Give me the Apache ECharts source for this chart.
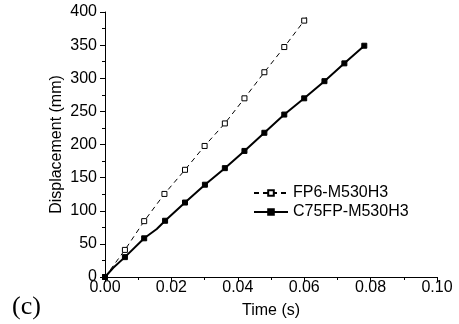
<!DOCTYPE html>
<html>
<head>
<meta charset="utf-8">
<script src="https://cdn.jsdelivr.net/npm/echarts@6/dist/echarts.min.js"></script>
<style>
html,body{margin:0;padding:0;background:#fff;}
#c{width:459px;height:324px;}
</style>
</head>
<body>
<div id="c"></div>
<script>
// Data
const seriesNames = ['FP6-M530H3', 'C75FP-M530H3'];
const fp6Time = [0, 0.0060, 0.0118, 0.0179, 0.0241, 0.0300, 0.0361, 0.0420, 0.0480, 0.0540, 0.0600, 0.0611];
const fp6Disp = [0, 40.9, 84.3, 125.4, 161.8, 197.8, 231.8, 269.7, 309.1, 347.1, 387.0, 395.5];
const fp6Marked = [true, true, true, true, true, true, true, true, true, true, true, false];
const c75Time = [0, 0.0025, 0.0060, 0.0118, 0.0156, 0.0181, 0.0241, 0.0301, 0.0361, 0.0420, 0.0480, 0.0540, 0.0600, 0.0661, 0.0721, 0.0781];
const c75Disp = [0, 14.0, 30.0, 58.4, 72.4, 84.9, 112.4, 139.3, 164.3, 190.3, 217.7, 245.2, 269.7, 295.6, 322.5, 349.1];
const c75Marked = [true, false, true, true, false, true, true, true, true, true, true, true, true, true, true, true];
const xTicks = [0, 0.02, 0.04, 0.06, 0.08, 0.10];
const yTicks = [0, 50, 100, 150, 200, 250, 300, 350, 400];

function build(t, d, m) {
  return t.map((x, i) => m[i] ? [x, d[i]] : { value: [x, d[i]], symbol: 'none' });
}

const chart = echarts.init(document.getElementById('c'), null, { renderer: 'canvas' });
const font = '"Liberation Sans", Arial, sans-serif';
chart.setOption({
  animation: false,
  backgroundColor: '#fff',
  grid: { left: 105, right: 22, top: 12, bottom: 45, containLabel: false },
  legend: {
    orient: 'vertical',
    left: 248,
    top: 180,
    itemWidth: 34,
    itemHeight: 7,
    itemGap: 3,
    textStyle: { color: '#000', fontFamily: font, fontSize: 16 },
    data: seriesNames
  },
  xAxis: {
    type: 'value',
    min: xTicks[0], max: xTicks[xTicks.length - 1], interval: 0.02,
    name: 'Time (s)', nameLocation: 'middle', nameGap: 26, nameMoveOverlap: false,
    nameTextStyle: { color: '#000', fontFamily: font, fontSize: 16 },
    axisLine: { show: true, lineStyle: { color: '#000', width: 1 } },
    axisTick: { show: true, inside: false, length: 5, lineStyle: { color: '#000' } },
    minorTick: { show: true, splitNumber: 2, length: 3, lineStyle: { color: '#000' } },
    splitLine: { show: false },
    axisLabel: { color: '#000', fontFamily: font, fontSize: 16, margin: 3, formatter: v => v.toFixed(2) }
  },
  yAxis: {
    type: 'value',
    min: yTicks[0], max: yTicks[yTicks.length - 1], interval: 50,
    name: 'Displacement (mm)', nameLocation: 'middle', nameGap: 40, nameRotate: 90, nameMoveOverlap: false,
    nameTextStyle: { color: '#000', fontFamily: font, fontSize: 16 },
    axisLine: { show: true, lineStyle: { color: '#000', width: 1 } },
    axisTick: { show: true, inside: false, length: 5, lineStyle: { color: '#000' } },
    minorTick: { show: true, splitNumber: 2, length: 3, lineStyle: { color: '#000' } },
    splitLine: { show: false },
    axisLabel: { color: '#000', fontFamily: font, fontSize: 16, margin: 8 }
  },
  series: [
    {
      name: seriesNames[0], type: 'line',
      data: build(fp6Time, fp6Disp, fp6Marked),
      symbol: 'rect', symbolSize: 5, showAllSymbol: true,
      lineStyle: { color: '#000', width: 1, type: [5, 4] },
      itemStyle: { color: '#fff', borderColor: '#000', borderWidth: 1 },
      z: 2
    },
    {
      name: seriesNames[1], type: 'line',
      data: build(c75Time, c75Disp, c75Marked),
      symbol: 'rect', symbolSize: 5, showAllSymbol: true,
      lineStyle: { color: '#000', width: 2 },
      itemStyle: { color: '#000', borderColor: '#000', borderWidth: 1 },
      z: 3
    }
  ],
  graphic: [
    { type: 'text', left: 12, top: 294, style: { text: '(c)', font: '26px "Liberation Serif", "Times New Roman", serif', fill: '#000' } }
  ]
});
</script>
</body>
</html>
